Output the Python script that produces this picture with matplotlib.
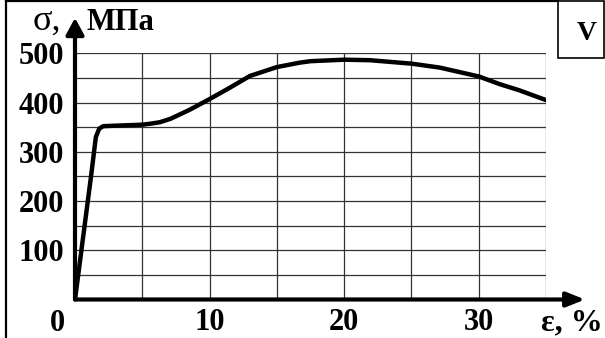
import numpy as np
import matplotlib
matplotlib.use("Agg")
import matplotlib.pyplot as plt
from matplotlib.patches import Rectangle
from matplotlib.lines import Line2D

# Stress–strain curve (strain in %, stress in MPa)
strain = [0, 0.6, 1.2, 1.55, 1.8, 2.1, 3.0, 4.0, 5.0, 5.6, 6.3, 7.1, 8.5, 10.0,
          11.5, 13.0, 15.0, 16.7, 17.5, 20.0, 21.9, 25.0, 27.1, 30.0, 31.6, 33.0, 35.0]
stress = [0, 126, 252, 330, 347, 352, 353, 354, 355, 357, 360, 367, 385, 407,
          430, 454, 472, 481, 484, 487, 486, 479, 471, 453, 437, 425, 405]

x_grid = np.arange(0, 36, 5)
y_grid = np.arange(0, 501, 50)
x_labels = ["", "", "10", "", "20", "", "30", ""]
y_labels = ["", "", "100", "", "200", "", "300", "", "400", "", "500"]

W, H = 605, 338
fig = plt.figure(figsize=(W / 100, H / 100), dpi=100)
fig.patch.set_facecolor("white")

serif = ["Liberation Serif", "DejaVu Serif"]

x0, x1 = 75, 546
y0, y1 = 299.5, 53.3
ax = fig.add_axes([x0 / W, (H - y0) / H, (x1 - x0) / W, (y0 - y1) / H])
ax.set_xlim(0, 35)
ax.set_ylim(0, 500)
ax.set_xticks(x_grid)
ax.set_yticks(y_grid)
ax.set_xticklabels(x_labels, fontsize=22, fontweight="bold", family=serif)
ax.set_yticklabels(y_labels, fontsize=22, fontweight="bold", family=serif)
ax.tick_params(axis="both", length=0)
ax.tick_params(axis="x", pad=6)
ax.tick_params(axis="y", pad=8)
ax.grid(True, color="#333333", lw=0.9)
ax.set_axisbelow(True)
for s in ax.spines.values():
    s.set_visible(False)

ax.plot(strain, stress, color="black", lw=3.2, solid_capstyle="round",
        solid_joinstyle="round", zorder=5)

# Axes with arrows
ax.annotate("", xy=(37.9, 0), xytext=(0, 0), annotation_clip=False,
            arrowprops=dict(arrowstyle="-|>,head_length=0.55,head_width=0.22",
                            lw=3, color="black", mutation_scale=20,
                            shrinkA=0, shrinkB=0), zorder=6)
ax.annotate("", xy=(0, 572), xytext=(0, 0), annotation_clip=False,
            arrowprops=dict(arrowstyle="-|>,head_length=0.5,head_width=0.27",
                            lw=3, color="black", mutation_scale=20,
                            shrinkA=0, shrinkB=0), zorder=6)

# Origin label
fig.text(57 / W, 1 - 331 / H, "0", fontsize=22, fontweight="bold", family=serif,
         ha="center", va="baseline")

# Axis titles
fig.text(33 / W, 1 - 30 / H, "σ,", fontsize=26, family=serif, ha="left",
         va="baseline")
fig.text(87 / W, 1 - 30 / H, "МПа", fontsize=22, fontweight="bold", family=serif,
         ha="left", va="baseline")
fig.text(603 / W, 1 - 330 / H, "ε, %", fontsize=23, fontweight="bold", family=serif,
         ha="right", va="baseline")

# Outer frame and label box
fig.add_artist(Line2D([6 / W, 6 / W], [0, 1 - 1 / H], color="black", lw=1.6,
                      transform=fig.transFigure))
fig.add_artist(Line2D([6 / W, 558 / W], [1 - 1 / H, 1 - 1 / H], color="black",
                      lw=1.6, transform=fig.transFigure))
fig.add_artist(Rectangle((558 / W, 1 - 58 / H), 46 / W, 57 / H, fill=False,
                         edgecolor="black", lw=1.2, transform=fig.transFigure))
fig.text(587 / W, 1 - 40 / H, "V", fontsize=20, fontweight="bold", family=serif,
         ha="center", va="baseline")

fig.savefig("out.png", dpi=100)
